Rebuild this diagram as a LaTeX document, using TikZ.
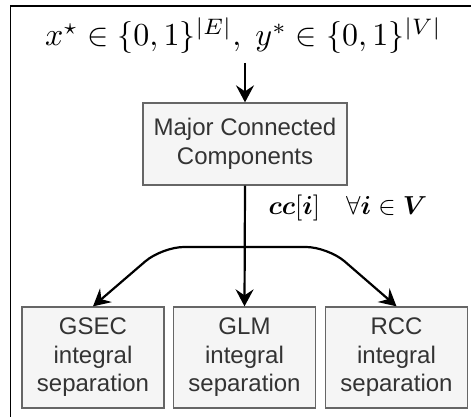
\documentclass[tikz,border=0pt]{standalone}
\usepackage{amsmath, amssymb}
\usepackage{bm}
\usepackage{fontspec}
\setsansfont{Liberation Sans}
\usepackage{tikz}
\usetikzlibrary{arrows.meta}

\definecolor{boxfill}{HTML}{F5F5F5}
\definecolor{boxline}{HTML}{666666}
\definecolor{boxtext}{HTML}{333333}

\tikzset{
    procbox/.style={draw=boxline, fill=boxfill, text=boxtext, line width=1.3pt,
        align=center, inner sep=0pt,
        font=\sffamily\fontsize{24}{28.5}\selectfont},
    subbox/.style={procbox, minimum width=142pt, minimum height=101pt},
    flow/.style={->, line width=2.2pt},
}

\begin{document}
\begin{tikzpicture}[x=1pt, y=-1pt, >={Stealth[length=17pt, width=18pt, inset=6pt]}]
        \useasboundingbox (0,0) rectangle (471,417);
        \begin{scope}
            \clip (0,0) rectangle (471,417);
            \draw[line width=1.3pt] (10.5,6) rectangle (520,460);
        \end{scope}

        % input vectors
        \node[anchor=base, scale=3.2, transform shape, inner sep=0pt] (xy) at (243.5,46)
            {$x^{\star}\in\{0,1\}^{|E|},\; y^{*}\in\{0,1\}^{|V|}$};

        \node[procbox, minimum width=204pt, minimum height=82pt] (mcc) at (245,144)
            {Major Connected\\Components};

        \node[subbox] (gsec) at ( 93.0,357.5) {GSEC\\integral\\separation};
        \node[subbox] (glm)  at (244.5,357.5) {GLM\\integral\\separation};
        \node[subbox] (rcc)  at (396.5,357.5) {RCC\\integral\\separation};

        \coordinate (split) at (245,247);
        \coordinate (lbend) at (162,247);
        \coordinate (rbend) at (328,247);

        \draw[flow] (mcc.north |- 0,63) -- (mcc.north);
        \draw[flow] (mcc.south) -- (glm.north);
        \draw[flow, rounded corners=22pt] (split) -- (lbend) -- (gsec.north);
        \draw[flow, rounded corners=22pt] (split) -- (rbend) -- (rcc.north);

        \node[anchor=base west, scale=2.6, transform shape, inner sep=0pt] (cc) at (268,214)
            {$\bm{cc}[\bm{i}] \quad \forall\bm{i} \in \bm{V}$};
    \end{tikzpicture}
\end{document}
